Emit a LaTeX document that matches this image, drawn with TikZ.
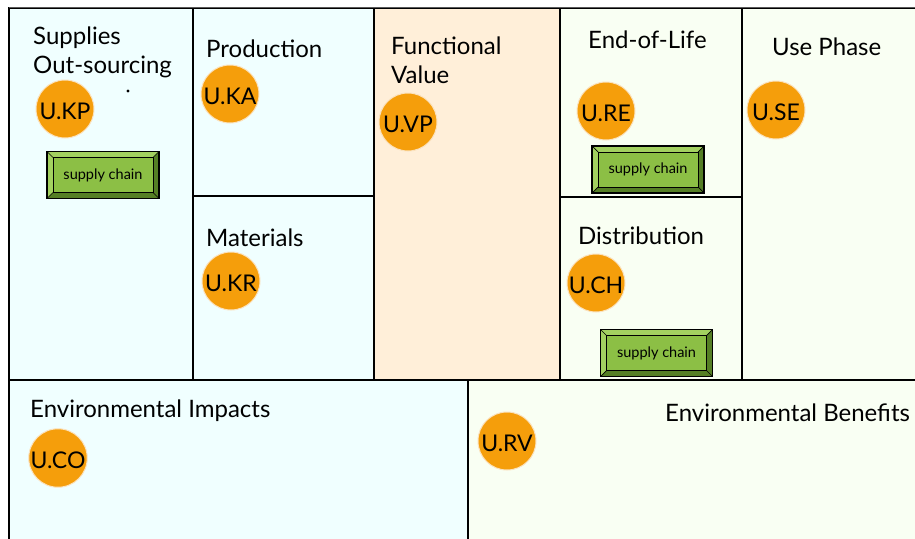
\documentclass[tikz,border=0pt]{standalone}
\usepackage{fontspec}
\setmainfont{Lato}
\usetikzlibrary{calc}
\definecolor{cellcyan}{HTML}{F0FFFF}
\definecolor{cellpeach}{HTML}{FFEFD9}
\definecolor{cellgreen}{HTML}{F9FFF3}
\definecolor{uorange}{HTML}{F59E0B}
\definecolor{urim}{HTML}{FBE2BE}
\definecolor{scface}{HTML}{8CBF45}
\definecolor{sclight}{HTML}{A3D160}
\definecolor{scdark}{HTML}{557F25}
\tikzset{
  cell/.style={draw=black, line width=1.9pt},
  title/.style={anchor=base west, inner sep=0pt, font=\fontsize{24}{29}\selectfont, align=left},
  ucirc/.style={circle, fill=uorange, draw=urim, line width=1pt, minimum size=58pt, inner sep=0pt, text height=20.5pt, text depth=0pt, font=\fontsize{23}{26}\selectfont},
  scbtn/.style={draw=black, line width=1.3pt, fill=scface, minimum width=112pt, minimum height=47pt, inner sep=0pt,
    font=\fontsize{14.5}{16}\selectfont,
    path picture={
      \coordinate (pnw) at (path picture bounding box.north west);
      \coordinate (pne) at (path picture bounding box.north east);
      \coordinate (psw) at (path picture bounding box.south west);
      \coordinate (pse) at (path picture bounding box.south east);
      \fill[sclight] (pnw) -- (pne) -- ([shift={(-6pt,-6pt)}]pne) -- ([shift={(6pt,-6pt)}]pnw) -- cycle;
      \fill[sclight] (pnw) -- ([shift={(6pt,-6pt)}]pnw) -- ([shift={(6pt,6pt)}]psw) -- (psw) -- cycle;
      \fill[scdark] (psw) -- ([shift={(6pt,6pt)}]psw) -- ([shift={(-6pt,6pt)}]pse) -- (pse) -- cycle;
      \fill[scdark] (pne) -- (pse) -- ([shift={(-6pt,6pt)}]pse) -- ([shift={(-6pt,-6pt)}]pne) -- cycle;
      \draw[black, line width=0.9pt] ([shift={(6pt,-6pt)}]pnw) rectangle ([shift={(-6pt,6pt)}]pse);
      \draw[black, line width=0.7pt] (pnw) -- ([shift={(6pt,-6pt)}]pnw) (pne) -- ([shift={(-6pt,-6pt)}]pne)
        (psw) -- ([shift={(6pt,6pt)}]psw) (pse) -- ([shift={(-6pt,6pt)}]pse);
    }}
}
\begin{document}
\begin{tikzpicture}[x=1pt, y=-1pt]
\clip (0,0) rectangle (915,538);
\fill[white] (0,0) rectangle (915,538);
% cells
\filldraw[cell, fill=cellcyan] (9,8) rectangle (193,380);
\filldraw[cell, fill=cellcyan] (193,8) rectangle (374,196);
\filldraw[cell, fill=cellcyan] (193,196) rectangle (374,380);
\filldraw[cell, fill=cellpeach] (374,8) rectangle (560,380);
\filldraw[cell, fill=cellgreen] (560,8) rectangle (742,197);
\filldraw[cell, fill=cellgreen] (560,197) rectangle (742,380);
\filldraw[cell, fill=cellgreen] (742,8) rectangle (925,380);
\filldraw[cell, fill=cellcyan] (9,380) rectangle (468,548);
\filldraw[cell, fill=cellgreen] (468,380) rectangle (925,548);
\draw[gray!70!black, line width=1pt] (9,7.5) -- (925,7.5);
% titles
\node[title] (tKP) at (33,73) {Supplies\\Out-sourcing};
\node[title] (tKA) at (206,57) {Production};
\node[title] (tVP) at (391,83) {Functional\\Value};
\node[title] (tRE) at (588,48) {End-of-Life};
\node[title] (tSE) at (772,55) {Use Phase};
\node[title] (tKR) at (206,246) {Materials};
\node[title] (tCH) at (578,244) {Distribution};
\node[title] (tCO) at (30,417) {Environmental Impacts};
\node[title] (tRV) at (665,421) {Environmental Benefits};
% small dot
\fill[black] (128,91) circle (1.7pt);
\coordinate (dot) at (128,91);
% circles
\node[ucirc] (KP) at (65,109) {U.KP};
\node[ucirc] (KA) at (230,94) {U.KA};
\node[ucirc] (VP) at (408,122) {U.VP};
\node[ucirc] (RE) at (606,111) {U.RE};
\node[ucirc] (SE) at (776,110) {U.SE};
\node[ucirc] (KR) at (231,281) {U.KR};
\node[ucirc] (CH) at (596,283) {U.CH};
\node[ucirc] (CO) at (58,458) {U.CO};
\node[ucirc] (RV) at (507,441) {U.RV};
% supply chain buttons
\node[scbtn] (sc1) at (103,175) {supply chain};
\node[scbtn] (sc2) at (648,169.5) {supply chain};
\node[scbtn] (sc3) at (656.5,353) {supply chain};
\end{tikzpicture}
\end{document}
